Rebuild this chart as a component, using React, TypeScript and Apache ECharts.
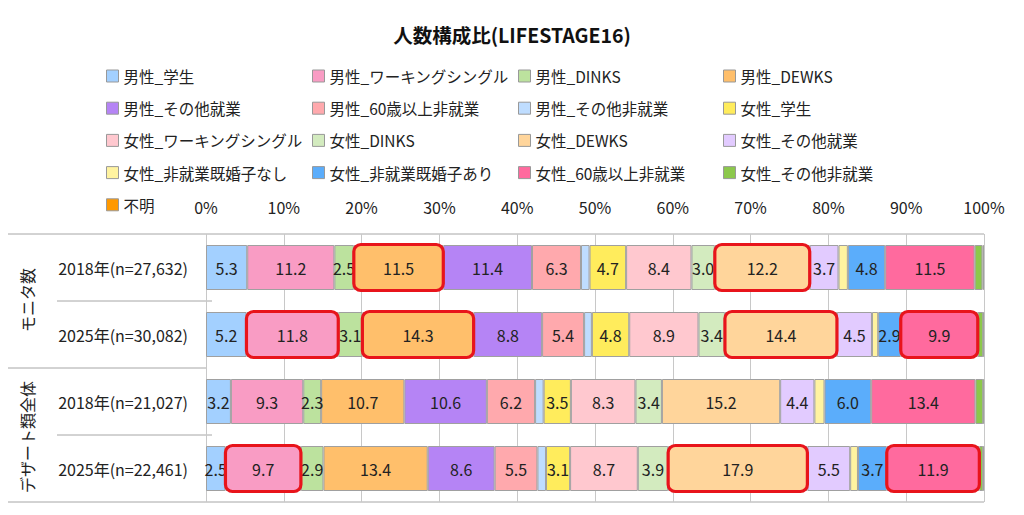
import React, { useEffect, useRef } from "react";
import * as echarts from "echarts";

const FONT = '"Noto Sans CJK JP", "Noto Sans", sans-serif';

const titleText = "人数構成比(LIFESTAGE16)";

const categories = [
  "2018年(n=27,632)",
  "2025年(n=30,082)",
  "2018年(n=21,027)",
  "2025年(n=22,461)",
];

const groupLabels = ["モニタ数", "デザート類全体"];

const seriesNames = [
  "男性_学生",
  "男性_ワーキングシングル",
  "男性_DINKS",
  "男性_DEWKS",
  "男性_その他就業",
  "男性_60歳以上非就業",
  "男性_その他非就業",
  "女性_学生",
  "女性_ワーキングシングル",
  "女性_DINKS",
  "女性_DEWKS",
  "女性_その他就業",
  "女性_非就業既婚子なし",
  "女性_非就業既婚子あり",
  "女性_60歳以上非就業",
  "女性_その他非就業",
  "不明",
];

const seriesColors = [
  "#A3D0FF",
  "#F99CC4",
  "#BCE29E",
  "#FFBF6B",
  "#B584F5",
  "#FFA9AD",
  "#BFDDFF",
  "#FFEC5C",
  "#FFC8CF",
  "#D3EBBF",
  "#FFD59B",
  "#E2CBFF",
  "#FFF3A0",
  "#5BADFB",
  "#FF6A9E",
  "#8CC84B",
  "#FF9900",
];

// values per row (percent), in series order
const monitor2018 = [5.3, 11.2, 2.5, 11.5, 11.4, 6.3, 1.1, 4.7, 8.4, 3.0, 12.2, 3.7, 1.2, 4.8, 11.5, 1.0, 0.2];
const monitor2025 = [5.2, 11.8, 3.1, 14.3, 8.8, 5.4, 1.0, 4.8, 8.9, 3.4, 14.4, 4.5, 0.8, 2.9, 9.9, 0.7, 0.1];
const dessert2018 = [3.2, 9.3, 2.3, 10.7, 10.6, 6.2, 1.1, 3.5, 8.3, 3.4, 15.2, 4.4, 1.3, 6.0, 13.4, 1.0, 0.1];
const dessert2025 = [2.5, 9.7, 2.9, 13.4, 8.6, 5.5, 1.1, 3.1, 8.7, 3.9, 17.9, 5.5, 1.0, 3.7, 11.9, 0.5, 0.1];

const rows = [monitor2018, monitor2025, dessert2018, dessert2025];

// highlighted segments: [rowIndex, seriesIndex]
const highlights: [number, number][] = [
  [0, 3], [0, 10],
  [1, 1], [1, 3], [1, 10], [1, 14],
  [3, 1], [3, 10], [3, 14],
];

const xTicks = [0, 10, 20, 30, 40, 50, 60, 70, 80, 90, 100];

const legendColumnsLeft = [106, 312, 518, 723];

export default function App() {
  const ref = useRef<HTMLDivElement>(null);

  useEffect(() => {
    document.body.style.margin = "0";
    if (!ref.current) return;
    const chart = echarts.init(ref.current, undefined, { renderer: "svg" });

    const barSeries = seriesNames.map((name, si) => ({
      name,
      type: "bar",
      stack: "total",
      barWidth: 45,
      itemStyle: { color: seriesColors[si], borderColor: "#A0A0A0", borderWidth: 1 },
      label: {
        show: true,
        position: "inside",
        fontSize: 16,
        fontFamily: FONT,
        color: "#222",
        formatter: (p: any) => (p.value >= 2 ? Number(p.value).toFixed(1) : ""),
      },
      emphasis: { disabled: true },
      data: rows.map((r) => r[si]),
    }));

    const hlData = highlights.map(([ri, si]) => {
      const r = rows[ri];
      let start = 0;
      for (let k = 0; k < si; k++) start += r[k];
      return [ri, start, start + r[si]];
    });

    const legends = legendColumnsLeft.map((left, ci) => ({
      data: seriesNames.filter((_, i) => i % 4 === ci),
      orient: "vertical",
      left,
      top: 65.5,
      padding: 0,
      itemWidth: 12,
      itemHeight: 12,
      itemGap: 11.2,
      icon: "rect",
      selectedMode: false,
      itemStyle: { borderColor: "#999", borderWidth: 1 },
      textStyle: { fontSize: 15.5, color: "#222", height: 21, lineHeight: 21, fontFamily: FONT },
    }));

    const option: any = {
      animation: false,
      textStyle: { fontFamily: FONT },
      title: {
        text: titleText,
        left: "center",
        top: 20,
        textStyle: { fontSize: 19.5, fontWeight: "bold", color: "#111", fontFamily: FONT },
      },
      legend: legends,
      grid: { left: 206, right: 40, top: 234, bottom: 13 },
      xAxis: {
        type: "value",
        position: "top",
        min: xTicks[0],
        max: xTicks[xTicks.length - 1],
        interval: 10,
        axisLine: { show: false },
        axisTick: { show: false },
        axisLabel: { formatter: "{value}%", fontSize: 16, color: "#222", margin: 19, fontFamily: FONT },
        splitLine: { lineStyle: { color: "#C8C8C8", width: 1 } },
      },
      yAxis: {
        type: "category",
        inverse: true,
        data: categories,
        axisLine: { show: false },
        axisTick: { show: false },
        axisLabel: { fontSize: 16, color: "#222", margin: 18, fontFamily: FONT },
      },
      series: [
        ...barSeries,
        {
          name: "highlight",
          type: "custom",
          z: 10,
          silent: true,
          clip: false,
          encode: { x: [1, 2], y: 0 },
          renderItem: (params: any, api: any) => {
            const cat = api.value(0);
            const s = api.value(1);
            const e = api.value(2);
            const p0 = api.coord([s, cat]);
            const p1 = api.coord([e, cat]);
            const h = 46;
            return {
              type: "rect",
              shape: { x: p0[0], y: p0[1] - h / 2, width: p1[0] - p0[0], height: h, r: 7 },
              style: { fill: "none", stroke: "#E8141B", lineWidth: 3.2 },
            };
          },
          data: hlData,
        },
      ],
      graphic: [
        { type: "line", shape: { x1: 8, y1: 234, x2: 984, y2: 234 }, style: { stroke: "#A6A6A6", lineWidth: 1 } },
        { type: "line", shape: { x1: 57, y1: 301, x2: 212, y2: 301 }, style: { stroke: "#A6A6A6", lineWidth: 1 } },
        { type: "line", shape: { x1: 8, y1: 368, x2: 206, y2: 368 }, style: { stroke: "#A6A6A6", lineWidth: 1 } },
        { type: "line", shape: { x1: 57, y1: 435, x2: 212, y2: 435 }, style: { stroke: "#A6A6A6", lineWidth: 1 } },
        { type: "line", shape: { x1: 8, y1: 502, x2: 984, y2: 502 }, style: { stroke: "#A6A6A6", lineWidth: 1 } },
        {
          type: "text",
          x: 27,
          y: 300,
          rotation: Math.PI / 2,
          style: { text: groupLabels[0], fontSize: 16, fill: "#222", fontFamily: FONT, textAlign: "center", textVerticalAlign: "middle" },
        },
        {
          type: "text",
          x: 27,
          y: 437,
          rotation: Math.PI / 2,
          style: { text: groupLabels[1], fontSize: 16, fill: "#222", fontFamily: FONT, textAlign: "center", textVerticalAlign: "middle" },
        },
      ],
    };

    chart.setOption(option);
    return () => chart.dispose();
  }, []);

  return <div ref={ref} style={{ width: 1024, height: 515 }} />;
}
